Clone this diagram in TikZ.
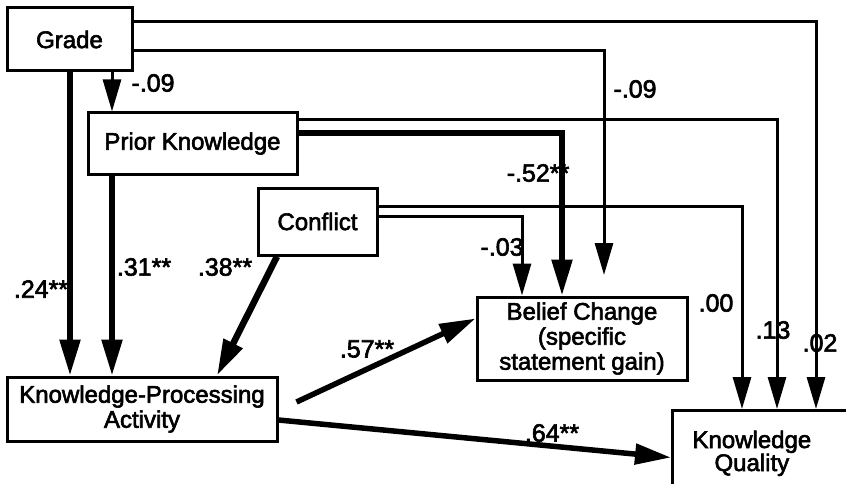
\documentclass[tikz,border=0pt]{standalone}
\usepackage{fontspec}
\setmainfont{Liberation Sans}
\newfontfamily\heavy{Liberation Sans}[FakeBold=2.5]
\usetikzlibrary{arrows.meta}
\begin{document}
\begin{tikzpicture}[x=1pt,y=-1pt,
  box/.style={draw,line width=3pt,rectangle,inner sep=0pt,align=center,
    font=\heavy\fontsize{24}{25}\selectfont},
  lab/.style={inner sep=0pt,font=\heavy\fontsize{25}{26}\selectfont},
  thin/.style={line width=3pt,-{Triangle[length=32pt,width=18pt]}},
  thick/.style={line width=5.5pt,-{Triangle[length=36pt,width=20pt]}},
  plain/.style={line width=3pt}]
\clip (0,0) rectangle (846,484);
\useasboundingbox (0,0) rectangle (846,484);
% columns
\coordinate (c70) at (70,0);
\coordinate (c112) at (112,0);
\coordinate (c522) at (522,0);
\coordinate (c562) at (562,0);
\coordinate (c604) at (604,0);
\coordinate (c742) at (742,0);
\coordinate (c777) at (777,0);
\coordinate (c816) at (816,0);
\coordinate (gbcend) at (604,275);
% boxes
\node[box,minimum width=125pt,minimum height=63pt] (grade) at (69.5,39.5) {Grade};
\node[box,minimum width=209pt,minimum height=61pt] (pk) at (192.5,143.5) {Prior Knowledge};
\node[box,minimum width=119pt,minimum height=67pt] (conf) at (317.5,221.5) {Conflict};
\node[box,minimum width=270pt,minimum height=64pt] (kpa) at (142,409) {Knowledge-Processing\\Activity};
\node[box,minimum width=210pt,minimum height=83pt] (bc) at (582,338.5) {Belief Change\\(specific\\statement gain)};
\node[box,anchor=north west,minimum height=88pt,inner xsep=20pt] (kq) at (671,409)
  {\begin{tabular}{@{}c@{}}Knowledge\\[-2pt]Quality\end{tabular}\hspace{60pt}};
% connectors from Grade
\draw[thin] ([yshift=17.5pt]grade.east) -| (c816 |- kq.north);
\draw[thin] ([yshift=-11.5pt]grade.east) -| (gbcend);
\draw[thick] (grade.south -| c70) -- (kpa.north -| c70);
\draw[thin] (grade.south -| c112) -- (pk.north -| c112);
% from Prior Knowledge
\draw[thin] ([yshift=23.5pt]pk.east) -| (c777 |- kq.north);
\draw[thick] ([yshift=10.5pt]pk.east) -| (c562 |- bc.north);
\draw[thick] (pk.south -| c112) -- (kpa.north -| c112);
% from Conflict
\draw[thin] ([yshift=15.5pt]conf.east) -| (c742 |- kq.north);
\draw[thin] ([yshift=5.5pt]conf.east) -| (c522 |- bc.north);
\draw[thick,line width=6.5pt] ([xshift=-40.5pt]conf.south) -- ([xshift=75pt]kpa.north);
% from KPA
\draw[thick] ([xshift=18pt,yshift=7pt]kpa.east) -- ([yshift=20pt]bc.west);
\draw[thick] ([yshift=-11pt]kpa.east) -- ([yshift=-3pt]kq.west);
% labels
\node[lab] (l1) at (153,83) {-.09};
\node[lab] (l2) at (635,89) {-.09};
\node[lab] (l3) at (538,173) {-.52**};
\node[lab] (l4) at (502,247) {-.03};
\node[lab] (l5) at (41,289) {.24**};
\node[lab] (l6) at (144,267) {.31**};
\node[lab] (l7) at (225,267) {.38**};
\node[lab] (l8) at (367,349) {.57**};
\node[lab] (l9) at (552,433) {.64**};
\node[lab] (l10) at (716,303) {.00};
\node[lab] (l11) at (773,330) {.13};
\node[lab] (l12) at (820,343) {.02};
\end{tikzpicture}
\end{document}
